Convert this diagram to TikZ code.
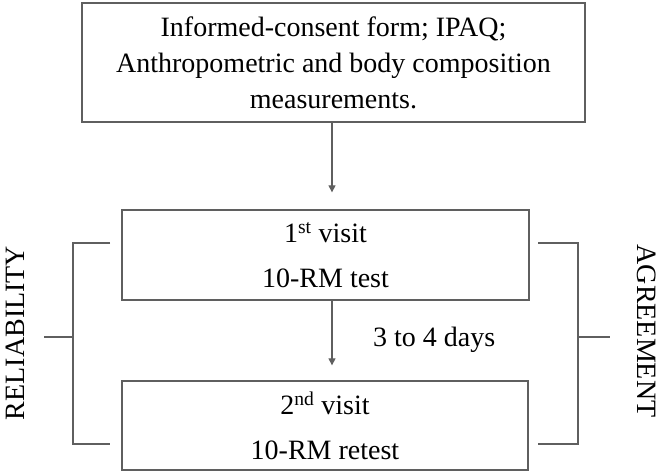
\documentclass[tikz,border=0pt]{standalone}
\usepackage{fontspec}
\setmainfont{Liberation Serif}
\usetikzlibrary{arrows.meta}
\definecolor{linegray}{RGB}{95,95,95}
\tikzset{
  boxnode/.style={draw=linegray, line width=1.3pt, rectangle, inner sep=0pt, align=center, font=\fontsize{28}{36}\selectfont},
  arr/.style={draw=linegray, line width=1.1pt, -{Triangle[length=7pt,width=7pt]}},
  brk/.style={draw=linegray, line width=1.1pt},
  side/.style={font=\fontsize{28}{34}\selectfont, inner sep=0pt}
}
\begin{document}
\begin{tikzpicture}[x=1pt,y=-1pt]
\useasboundingbox (0,0) rectangle (661,474);
\node[boxnode, minimum width=503pt, minimum height=119pt] (top) at (333.5,62.5)
  {Informed-consent form; IPAQ;\\Anthropometric and body composition\\measurements.};
\node[boxnode, minimum width=407pt, minimum height=90pt] (v1) at (325.5,255)
  {1\textsuperscript{st} visit\\[9pt]10-RM test};
\node[boxnode, minimum width=406pt, minimum height=89pt] (v2) at (325,425.5)
  {2\textsuperscript{nd} visit\\[9pt]10-RM retest};
\coordinate (ax) at (332,0);
\draw[arr, shorten >=17pt] (top.south -| ax) -- (v1.north -| ax);
\draw[arr, shorten >=15pt] (v1.south -| ax) -- (v2.north -| ax);
\node[side, anchor=west] (days) at (373,340) {3 to 4 days};
% brackets
\coordinate (lt) at (110,243);
\coordinate (lb) at (110,444);
\coordinate (lm) at (73,337);
\coordinate (ls) at (44,337);
\draw[brk] (lt) -- (73,243) -- (73,444) -- (lb);
\draw[brk] (lm) -- (ls);
\coordinate (rt) at (538,243);
\coordinate (rb) at (538,444);
\coordinate (rm) at (578,337);
\coordinate (rs) at (610,337);
\draw[brk] (rt) -- (578,243) -- (578,444) -- (rb);
\draw[brk] (rm) -- (rs);
\node[side, rotate=90] (rel) at (15,333) {RELIABILITY};
\node[side, rotate=-90] (agr) at (647,331) {AGREEMENT};
\end{tikzpicture}
\end{document}
